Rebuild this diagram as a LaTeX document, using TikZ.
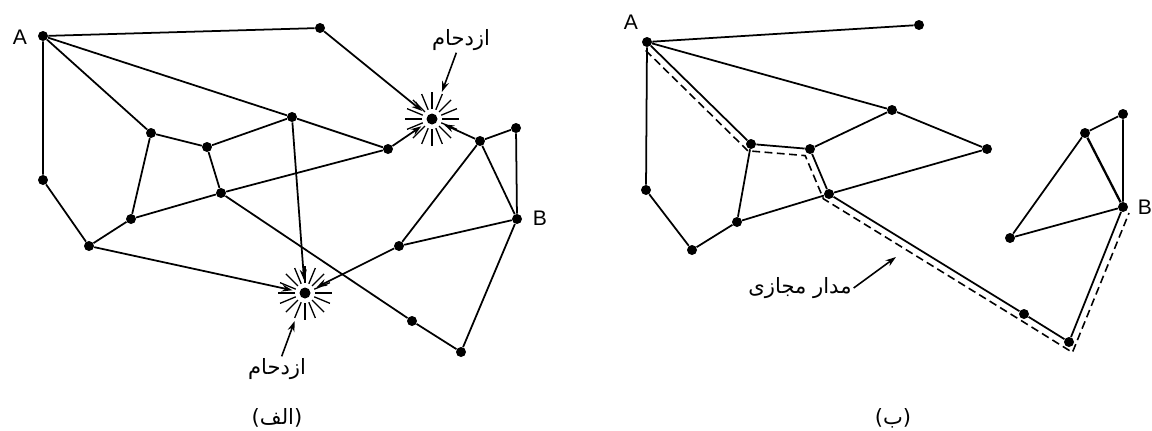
\documentclass[tikz,border=0pt]{standalone}
\usepackage{fontspec}
\setmainfont{Liberation Sans}
\newfontfamily\arabicfont[Script=Arabic]{DejaVu Sans}
\TeXXeTstate=1
\usetikzlibrary{arrows.meta}

\tikzset{
  dot/.style={circle,fill=black,inner sep=0pt,minimum size=0.2cm},
  hub/.style={circle,fill=black,inner sep=0pt,minimum size=0.22cm},
  link/.style={line width=1pt},
  jamarrow/.style={line width=1pt,-{Stealth[length=6pt,width=4pt]},shorten >=0.14cm},
  tagarrow/.style={line width=0.9pt,-{Stealth[length=6pt,width=4pt]}},
  spike/.style={line width=0.75pt},
  letter/.style={font=\fontsize{12}{14}\selectfont,inner sep=0pt},
  tag/.style={font=\arabicfont\fontsize{12}{14}\selectfont,inner sep=1pt},
  vcircuit/.style={line width=0.9pt,dash pattern=on 4.5pt off 2.5pt}
}

\begin{document}
\begin{tikzpicture}[x=0.02cm,y=-0.02cm]
\path[use as bounding box] (0,0) rectangle (1152,430);

% ---- (a) congested network
\node[dot] (A) at (43,36) {};
\node[dot] (T) at (320,28) {};
\node[hub] (C1) at (432,119) {};
\node[dot] (n1) at (151,133) {};
\node[dot] (n2) at (207,147) {};
\node[dot] (n3) at (292,117) {};
\node[dot] (n4) at (388,149) {};
\node[dot] (n5) at (480,141) {};
\node[dot] (n6) at (516,128) {};
\node[dot] (n7) at (43,180) {};
\node[dot] (n8) at (221,193) {};
\node[dot] (n9) at (131,219) {};
\node[dot] (B) at (517,219) {};
\node[dot] (n10) at (89,246) {};
\node[dot] (n11) at (399,246) {};
\node[hub] (C2) at (305,293) {};
\node[dot] (n12) at (412,321) {};
\node[dot] (n13) at (461,352) {};

\node[letter] (labA) at (20,37) {A};
\node[letter] (labB) at (540,218) {B};

\draw[link] (A) -- (T) (A) -- (n7) (A) -- (n1) (A) -- (n3) (n3) -- (n4)
  (n1) -- (n2) (n2) -- (n3) (n1) -- (n9) (n2) -- (n8) (n9) -- (n8) (n8) -- (n4)
  (n8) -- (n12) (n12) -- (n13) (n7) -- (n10) (n10) -- (n9)
  (n11) -- (n5) (n11) -- (B) (n5) -- (n6) (n5) -- (B) (n6) -- (B) (B) -- (n13);

\draw[jamarrow] (T) -- (C1);
\draw[jamarrow] (n4) -- (C1);
\draw[jamarrow] (n5) -- (C1);
\draw[jamarrow] (n3) -- (C2);
\draw[jamarrow] (n10) -- (C2);
\draw[jamarrow] (n11) -- (C2);

% stars round the two jammed routers
\foreach \ang in {0,22.5,...,337.5} {
  \draw[spike] (C1.center) ++(\ang:10) -- ++(\ang:17);
  \draw[spike] (C2.center) ++(\ang:10) -- ++(\ang:17);
}

\node[tag] (jam1) at (461,40) {\beginR ازدحام\endR};
\node[tag] (jam2) at (277,369) {\beginR ازدحام\endR};
\draw[tagarrow,shorten >=0.46cm] (jam1) -- (C1);
\draw[tagarrow,shorten >=0.48cm] (jam2) -- (C2);

\node[tag] (capa) at (277,418) {\beginR(الف)\endR};

% ---- (b) virtual circuit
\node[dot] (rA) at (647,42) {};
\node[dot] (rT) at (919,25) {};
\node[dot] (r1) at (751,144) {};
\node[dot] (r2) at (810,149) {};
\node[dot] (r3) at (892,110) {};
\node[dot] (r4) at (987,149) {};
\node[dot] (r5) at (1085,133) {};
\node[dot] (r6) at (1123,114) {};
\node[dot] (r7) at (646,190) {};
\node[dot] (r8) at (829,194) {};
\node[dot] (r9) at (737,222) {};
\node[dot] (rB) at (1123,207) {};
\node[dot] (r10) at (692,250) {};
\node[dot] (r11) at (1010,238) {};
\node[dot] (r12) at (1024,314) {};
\node[dot] (r13) at (1069,342) {};

\node[letter] (labrA) at (631,22) {A};
\node[letter] (labrB) at (1145,207) {B};

\draw[link] (rA) -- (rT) (rA) -- (r7) (r7) -- (r10) (r10) -- (r9)
  (rA) -- (r1) (rA) -- (r3) (r3) -- (r4) (r1) -- (r2) (r1) -- (r9)
  (r2) -- (r3) (r2) -- (r8) (r9) -- (r8) (r8) -- (r4) (r8) -- (r12)
  (r12) -- (r13) (r13) -- (rB) (r5) -- (r6) (r6) -- (rB)
  (r5) -- (r11) (r11) -- (rB);
\draw[line width=1.3pt] (r5) -- (rB);

\draw[vcircuit] ([shift={(-1.3,8.5)}]rA.center) -- ([shift={(-3.1,6.8)}]r1.center)
  -- ([shift={(-4.8,6.6)}]r2.center) -- ([shift={(-5.6,4.8)}]r8.center)
  -- ([shift={(-3.7,6)}]r12.center) -- ([shift={(3.4,10.4)}]r13.center)
  -- ([shift={(6,6)}]rB.center);

\coordinate (vtip) at (896,257);
\node[tag] (vlabel) at (800,288) {\beginR مدار مجازی\endR};
\draw[tagarrow] (vlabel.east) -- (vtip);

\node[tag] (capb) at (893,418) {\beginR(ب)\endR};
\end{tikzpicture}
\end{document}
